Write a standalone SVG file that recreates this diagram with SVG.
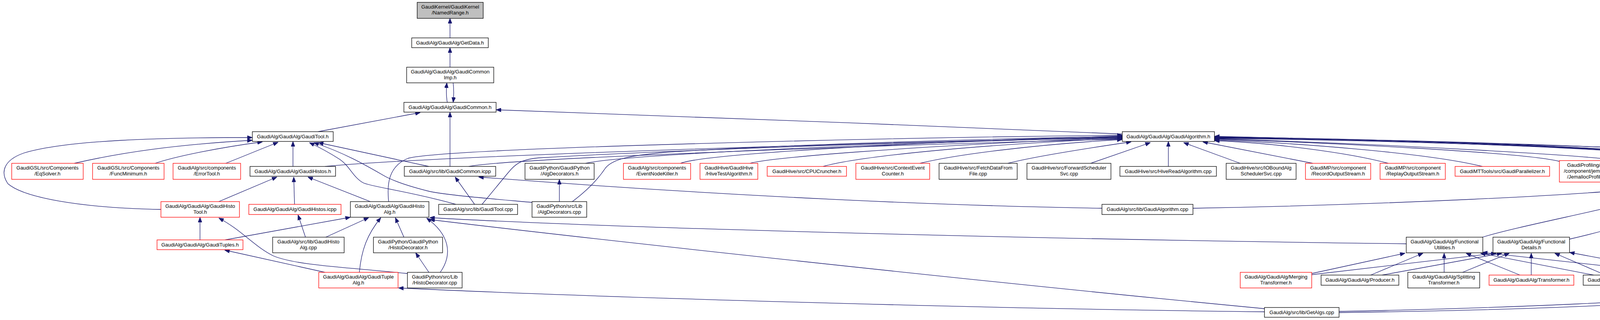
<svg xmlns="http://www.w3.org/2000/svg" width="5383" height="819" viewBox="0 0 5383 819">
<style>
.node rect{fill:#ffffff;stroke:#000000;stroke-width:1.3}
.node.red rect{stroke:#ff0000}
.node.root rect{fill:#bfbfbf}
.node text{font-family:"Liberation Sans",Arial,Helvetica,sans-serif;font-size:13px;fill:#000000;text-anchor:middle}
.edges path{fill:none;stroke:#191970;stroke-width:1.3;marker-end:url(#arr)}
</style>
<defs>
<marker id="arr" viewBox="0 0 13 10" refX="13" refY="5" markerWidth="13" markerHeight="10" markerUnits="userSpaceOnUse" orient="auto">
<path d="M0,0 L13,5 L0,10 z" fill="#191970" stroke="#191970" stroke-width="1"/>
</marker>
</defs>
<rect x="0" y="0" width="5383" height="819" fill="#ffffff"/>
<g id="edges" class="edges">
<path d="M1152,97 L1152,47"/>
<path d="M1152,172 L1152,122"/>
<path d="M1145,262 C1142,245 1142,230 1144,212"/>
<path d="M1160,212 C1162,228 1162,245 1160,262"/>
<path d="M814,337 L1076,288"/>
<path d="M1152,426 L1152,287"/>
<path d="M2873,343 C2400,320 1600,295 1270,281"/>
<path d="M190,418 C312,390 450,370 646,359"/>
<path d="M397,418 C450,400 560,378 672,363"/>
<path d="M578,418 L712,364"/>
<path d="M412,536 C200,532 60,505 20,470 C0,440 10,410 60,392 C170,358 420,352 646,352"/>
<path d="M560,516 L709,453"/>
<path d="M750,426 L750,362"/>
<path d="M1098,426 L815,365"/>
<path d="M1167,523 C1050,490 950,478 930,468 C905,455 895,425 870,408 C845,392 820,378 792,365"/>
<path d="M1362,518 C1250,508 1150,500 1100,490 C1040,475 1000,460 980,448 C940,425 880,390 803,365"/>
<path d="M754,523 L752,453"/>
<path d="M948,516 L788,453"/>
<path d="M832,426 C1100,400 2200,365 2873,352"/>
<path d="M1200,426 C1300,405 2300,370 2873,356"/>
<path d="M995,516 C990,470 995,425 1045,405 C1150,378 2300,352 2873,346"/>
<path d="M1234,523 L1300,443 C1320,418 1335,408 1380,404 C1700,385 2400,360 2873,353"/>
<path d="M1499,418 C1600,395 2200,370 2873,350"/>
<path d="M1465,516 C1500,490 1530,460 1550,430 C1570,405 1620,398 1700,390 C2000,370 2500,356 2873,349"/>
<path d="M1742,418 C1800,395 2300,365 2873,348"/>
<path d="M1920,418 C1960,405 2300,375 2873,352"/>
<path d="M2107,426 C2200,400 2500,370 2873,354"/>
<path d="M2355,418 C2450,395 2650,370 2873,357"/>
<path d="M2580,418 C2650,400 2780,380 2896,363"/>
<path d="M2792,418 L2945,365"/>
<path d="M2991,426 L2991,362"/>
<path d="M3175,418 L3030,365"/>
<path d="M3361,418 L3079,363"/>
<path d="M3554,418 C3450,390 3250,365 3109,360"/>
<path d="M3795,426 C3650,390 3300,365 3109,358"/>
<path d="M3992,413 C3900,390 3400,365 3109,356"/>
<path d="M4159,413 C4100,400 3600,370 3109,355"/>
<path d="M3054,533 C3500,525 4100,500 4300,472 C4330,455 4330,420 4300,405 C4200,380 3600,360 3109,352"/>
<path d="M3795,607 C3900,575 4150,530 4320,480 C4350,460 4355,420 4330,405 C4230,380 3600,360 3109,353"/>
<path d="M4018,612 C4200,570 4370,510 4380,460 C4385,425 4360,408 4320,400 C4200,380 3600,360 3109,354"/>
<path d="M3428,797 C3800,790 4350,770 4450,745 C4490,730 4490,700 4490,650 L4488,540 C4487,490 4470,440 4390,412 C4250,375 3600,358 3109,350"/>
<path d="M3428,800 C3800,795 4400,780 4500,742 C4535,725 4540,690 4540,667 C4535,610 4530,540 4570,505 C4620,470 4750,455 4852,448"/>
<path d="M4665,523 C4600,450 4550,415 4490,405 C4300,375 3600,358 3109,351"/>
<path d="M4928,607 C4880,575 4850,560 4830,545 C4790,510 4720,460 4680,440 C4550,390 3700,360 3109,350"/>
<path d="M4924,426 C4880,412 4800,405 4700,400 C4300,380 3600,360 3109,349"/>
<path d="M4908,607 L4723,550"/>
<path d="M4973,523 L4973,452"/>
<path d="M5040,607 C5100,575 5120,540 5100,505 C5085,480 5055,465 5022,453"/>
<path d="M5212,516 L5027,455"/>
<path d="M5038,607 L5201,558"/>
<path d="M3600,624 C2500,610 1500,580 1100,557"/>
<path d="M3237,790 C2500,720 1500,610 1100,562"/>
<path d="M3237,798 C2500,790 1500,760 1020,737"/>
<path d="M3358,700 L3597,648"/>
<path d="M3358,703 L3830,648"/>
<path d="M3509,704 L3643,648"/>
<path d="M3538,704 L3845,648"/>
<path d="M3697,697 L3697,648"/>
<path d="M3744,697 L3864,648"/>
<path d="M3891,704 L3753,648"/>
<path d="M3920,704 L3920,648"/>
<path d="M4080,704 L3790,648"/>
<path d="M4110,704 L3980,648"/>
<path d="M4284,700 L3795,646"/>
<path d="M4290,697 L4018,646"/>
<path d="M1432,516 L1432,459"/>
<path d="M1098,697 L1064,647"/>
<path d="M1127,697 C1160,650 1150,600 1092,558"/>
<path d="M1034,607 L1012,557"/>
<path d="M920,697 C925,640 940,600 975,557"/>
<path d="M834,607 L944,557"/>
<path d="M782,607 L763,550"/>
<path d="M512,614 L512,556"/>
<path d="M576,614 L897,556"/>
<path d="M832,697 L575,640"/>
<path d="M1043,700 C900,685 760,680 700,655 C650,630 620,590 560,558"/>
<path d="M1215,523 L1165,453"/>
<path d="M2821,533 C2300,525 1700,490 1225,453"/>
</g>
<g id="n_namedrange" class="node root"><rect x="1068" y="6" width="169" height="41"/><text x="1152.5" y="22">GaudiKernel/GaudiKernel</text><text x="1152.5" y="37">/NamedRange.h</text></g>
<g id="n_getdata" class="node"><rect x="1054" y="97" width="196" height="25"/><text x="1152" y="114">GaudiAlg/GaudiAlg/GetData.h</text></g>
<g id="n_commonimp" class="node"><rect x="1041" y="172" width="223" height="40"/><text x="1152.5" y="188">GaudiAlg/GaudiAlg/GaudiCommon</text><text x="1152.5" y="203">Imp.h</text></g>
<g id="n_gaudicommon" class="node"><rect x="1034" y="262" width="236" height="25"/><text x="1152" y="279">GaudiAlg/GaudiAlg/GaudiCommon.h</text></g>
<g id="n_gauditool" class="node"><rect x="646" y="337" width="207" height="25"/><text x="749.5" y="354">GaudiAlg/GaudiAlg/GaudiTool.h</text></g>
<g id="n_gaudialgorithm" class="node"><rect x="2873" y="337" width="236" height="25"/><text x="2991" y="354">GaudiAlg/GaudiAlg/GaudiAlgorithm.h</text></g>
<g id="n_eqsolver" class="node red"><rect x="30" y="418" width="183" height="41"/><text x="121.5" y="434">GaudiGSL/src/Components</text><text x="121.5" y="449">/EqSolver.h</text></g>
<g id="n_funcminimum" class="node red"><rect x="237" y="418" width="183" height="41"/><text x="328.5" y="434">GaudiGSL/src/Components</text><text x="328.5" y="449">/FuncMinimum.h</text></g>
<g id="n_errortool" class="node red"><rect x="443" y="418" width="173" height="41"/><text x="529.5" y="434">GaudiAlg/src/components</text><text x="529.5" y="449">/ErrorTool.h</text></g>
<g id="n_gaudihistos" class="node"><rect x="640" y="426" width="219" height="25"/><text x="749.5" y="443">GaudiAlg/GaudiAlg/GaudiHistos.h</text></g>
<g id="n_commonicpp" class="node"><rect x="1035" y="426" width="234" height="25"/><text x="1152" y="443">GaudiAlg/src/lib/GaudiCommon.icpp</text></g>
<g id="n_algdecoh" class="node"><rect x="1344" y="418" width="177" height="41"/><text x="1432.5" y="434">GaudiPython/GaudiPython</text><text x="1432.5" y="449">/AlgDecorators.h</text></g>
<g id="n_eventnodekiller" class="node red"><rect x="1596" y="418" width="172" height="41"/><text x="1682" y="434">GaudiAlg/src/components</text><text x="1682" y="449">/EventNodeKiller.h</text></g>
<g id="n_hivetest" class="node red"><rect x="1792" y="418" width="148" height="41"/><text x="1866" y="434">GaudiHive/GaudiHive</text><text x="1866" y="449">/HiveTestAlgorithm.h</text></g>
<g id="n_cpucruncher" class="node red"><rect x="1964" y="426" width="203" height="25"/><text x="2065.5" y="443">GaudiHive/src/CPUCruncher.h</text></g>
<g id="n_contextevent" class="node red"><rect x="2191" y="418" width="189" height="41"/><text x="2285.5" y="434">GaudiHive/src/ContextEvent</text><text x="2285.5" y="449">Counter.h</text></g>
<g id="n_fetchdata" class="node"><rect x="2404" y="418" width="200" height="41"/><text x="2504" y="434">GaudiHive/src/FetchDataFrom</text><text x="2504" y="449">File.cpp</text></g>
<g id="n_forwardsched" class="node"><rect x="2629" y="418" width="215" height="41"/><text x="2736.5" y="434">GaudiHive/src/ForwardScheduler</text><text x="2736.5" y="449">Svc.cpp</text></g>
<g id="n_hiveread" class="node"><rect x="2867" y="426" width="247" height="25"/><text x="2990.5" y="443">GaudiHive/src/HiveReadAlgorithm.cpp</text></g>
<g id="n_iobound" class="node"><rect x="3139" y="418" width="179" height="41"/><text x="3228.5" y="434">GaudiHive/src/IOBoundAlg</text><text x="3228.5" y="449">SchedulerSvc.cpp</text></g>
<g id="n_recordout" class="node red"><rect x="3342" y="418" width="167" height="41"/><text x="3425.5" y="434">GaudiMP/src/component</text><text x="3425.5" y="449">/RecordOutputStream.h</text></g>
<g id="n_replayout" class="node red"><rect x="3533" y="418" width="167" height="41"/><text x="3616.5" y="434">GaudiMP/src/component</text><text x="3616.5" y="449">/ReplayOutputStream.h</text></g>
<g id="n_parallelizer" class="node red"><rect x="3725" y="426" width="242" height="25"/><text x="3846" y="443">GaudiMTTools/src/GaudiParallelizer.h</text></g>
<g id="n_jemalloc" class="node red"><rect x="3992" y="411" width="142" height="55"/><text x="4063" y="427">GaudiProfiling/src</text><text x="4063" y="442">/component/jemalloc</text><text x="4063" y="457">/JemallocProfile.h</text></g>
<g id="n_callgrind" class="node red"><rect x="4159" y="411" width="139" height="55"/><text x="4228.5" y="427">GaudiProfiling/src</text><text x="4228.5" y="442">/component/valgrind</text><text x="4228.5" y="457">/CallgrindProfile.h</text></g>
<g id="n_gaudiseqh" class="node red"><rect x="4852" y="426" width="243" height="25"/><text x="4973.5" y="443">GaudiAlg/GaudiAlg/GaudiSequencer.h</text></g>
<g id="n_histotool" class="node red"><rect x="412" y="516" width="201" height="40"/><text x="512.5" y="532">GaudiAlg/GaudiAlg/GaudiHisto</text><text x="512.5" y="547">Tool.h</text></g>
<g id="n_histosicpp" class="node red"><rect x="637" y="523" width="236" height="26"/><text x="755" y="540">GaudiAlg/GaudiAlg/GaudiHistos.icpp</text></g>
<g id="n_histoalgh" class="node"><rect x="897" y="516" width="201" height="40"/><text x="997.5" y="532">GaudiAlg/GaudiAlg/GaudiHisto</text><text x="997.5" y="547">Alg.h</text></g>
<g id="n_gaudicpp" class="node"><rect x="1123" y="523" width="202" height="26"/><text x="1224" y="540">GaudiAlg/src/lib/GaudiTool.cpp</text></g>
<g id="n_algdecocpp" class="node"><rect x="1362" y="516" width="140" height="40"/><text x="1432" y="532">GaudiPython/src/Lib</text><text x="1432" y="547">/AlgDecorators.cpp</text></g>
<g id="n_gaudialgcpp" class="node"><rect x="2821" y="523" width="233" height="26"/><text x="2937.5" y="540">GaudiAlg/src/lib/GaudiAlgorithm.cpp</text></g>
<g id="n_prescaler" class="node red"><rect x="4575" y="523" width="203" height="26"/><text x="4676.5" y="540">GaudiAlg/GaudiAlg/Prescaler.h</text></g>
<g id="n_gaudiseqcpp" class="node"><rect x="4853" y="523" width="238" height="26"/><text x="4972" y="540">GaudiAlg/src/lib/GaudiSequencer.cpp</text></g>
<g id="n_atomicseq" class="node red"><rect x="5167" y="516" width="211" height="40"/><text x="5272.5" y="532">GaudiAlg/GaudiAlg/GaudiAtomic</text><text x="5272.5" y="547">Sequencer.h</text></g>
<g id="n_tuples" class="node red"><rect x="402" y="614" width="220" height="25"/><text x="512" y="631">GaudiAlg/GaudiAlg/GaudiTuples.h</text></g>
<g id="n_histoalgcpp" class="node"><rect x="698" y="607" width="183" height="40"/><text x="789.5" y="623">GaudiAlg/src/lib/GaudiHisto</text><text x="789.5" y="638">Alg.cpp</text></g>
<g id="n_histodecoh" class="node"><rect x="956" y="607" width="177" height="40"/><text x="1044.5" y="623">GaudiPython/GaudiPython</text><text x="1044.5" y="638">/HistoDecorator.h</text></g>
<g id="n_funcutil" class="node"><rect x="3600" y="607" width="196" height="40"/><text x="3698" y="623">GaudiAlg/GaudiAlg/Functional</text><text x="3698" y="638">Utilities.h</text></g>
<g id="n_funcdetails" class="node"><rect x="3822" y="607" width="196" height="40"/><text x="3920" y="623">GaudiAlg/GaudiAlg/Functional</text><text x="3920" y="638">Details.h</text></g>
<g id="n_entries" class="node"><rect x="4886" y="607" width="172" height="40"/><text x="4972" y="623">GaudiAlg/src/components</text><text x="4972" y="638">/GaudiAlg_entries.cpp</text></g>
<g id="n_tuplealg" class="node red"><rect x="816" y="697" width="203" height="40"/><text x="917.5" y="713">GaudiAlg/GaudiAlg/GaudiTuple</text><text x="917.5" y="728">Alg.h</text></g>
<g id="n_histodecocpp" class="node"><rect x="1043" y="697" width="140" height="40"/><text x="1113" y="713">GaudiPython/src/Lib</text><text x="1113" y="728">/HistoDecorator.cpp</text></g>
<g id="n_merging" class="node red"><rect x="3175" y="697" width="183" height="40"/><text x="3266.5" y="713">GaudiAlg/GaudiAlg/Merging</text><text x="3266.5" y="728">Transformer.h</text></g>
<g id="n_producer" class="node"><rect x="3382" y="704" width="199" height="26"/><text x="3481.5" y="721">GaudiAlg/GaudiAlg/Producer.h</text></g>
<g id="n_splitting" class="node"><rect x="3604" y="697" width="184" height="40"/><text x="3696" y="713">GaudiAlg/GaudiAlg/Splitting</text><text x="3696" y="728">Transformer.h</text></g>
<g id="n_transformer" class="node red"><rect x="3812" y="704" width="217" height="26"/><text x="3920.5" y="721">GaudiAlg/GaudiAlg/Transformer.h</text></g>
<g id="n_consumer" class="node"><rect x="4053" y="704" width="207" height="26"/><text x="4156.5" y="721">GaudiAlg/GaudiAlg/Consumer.h</text></g>
<g id="n_filterpred" class="node"><rect x="4284" y="697" width="166" height="40"/><text x="4367" y="713">GaudiAlg/GaudiAlg/Filter</text><text x="4367" y="728">Predicate.h</text></g>
<g id="n_getalgs" class="node"><rect x="3237" y="787" width="191" height="25"/><text x="3332.5" y="804">GaudiAlg/src/lib/GetAlgs.cpp</text></g>
</svg>
